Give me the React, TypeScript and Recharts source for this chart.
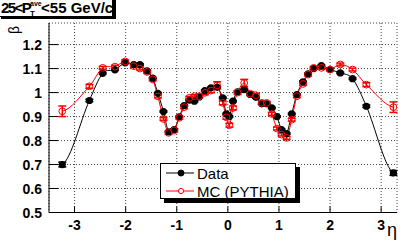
import { LineChart, Line, XAxis, YAxis, CartesianGrid, ErrorBar, Legend } from 'recharts'

// eta bins and response values
const eta = [
  -3.24, -2.71, -2.45, -2.21, -2.01, -1.84, -1.72, -1.58, -1.47, -1.37, -1.26, -1.16,
  -1.05, -0.95, -0.855, -0.755, -0.655, -0.56, -0.45, -0.33, -0.21, -0.1, -0.03, 0.03,
  0.1, 0.19, 0.32, 0.44, 0.55, 0.665, 0.76, 0.86, 0.96, 1.05, 1.15, 1.25,
  1.35, 1.47, 1.57, 1.68, 1.83, 2.0, 2.2, 2.44, 2.71, 3.24,
]
const dataBeta = [
  0.7, 0.967, 1.08, 1.095, 1.124, 1.117, 1.117, 1.09, 1.06, 0.997, 0.921, 0.836,
  0.846, 0.899, 0.946, 0.968, 0.964, 0.982, 1.008, 1.02, 1.022, 0.978, 0.911, 0.9,
  0.964, 1.003, 1.012, 0.992, 0.98, 0.953, 0.953, 0.936, 0.9, 0.846, 0.829, 0.911,
  0.992, 1.045, 1.078, 1.1, 1.112, 1.096, 1.082, 1.058, 0.943, 0.665,
]
const dataErr = [
  0.01, 0.005, 0.003, 0.003, 0.003, 0.003, 0.003, 0.003, 0.003, 0.003, 0.003, 0.003,
  0.003, 0.003, 0.003, 0.003, 0.003, 0.003, 0.003, 0.003, 0.003, 0.003, 0.003, 0.003,
  0.003, 0.003, 0.003, 0.003, 0.003, 0.003, 0.003, 0.003, 0.003, 0.003, 0.003, 0.003,
  0.003, 0.003, 0.003, 0.003, 0.003, 0.003, 0.003, 0.003, 0.005, 0.01,
]
const mcBeta = [
  0.922, 1.026, 1.103, 1.108, 1.13, 1.11, 1.1, 1.086, 1.055, 0.984, 0.89, 0.832,
  0.842, 0.895, 0.939, 0.978, 0.985, 0.985, 0.999, 1.008, 1.03, 0.957, 0.897, 0.864,
  0.936, 1.0, 1.04, 0.995, 0.989, 0.957, 0.957, 0.911, 0.85, 0.825, 0.811, 0.887,
  0.985, 1.036, 1.075, 1.103, 1.103, 1.096, 1.117, 1.096, 1.033, 0.939,
]
const mcErr = [
  0.022, 0.008, 0.006, 0.006, 0.006, 0.006, 0.006, 0.006, 0.006, 0.006, 0.006, 0.006,
  0.006, 0.006, 0.006, 0.006, 0.006, 0.006, 0.008, 0.008, 0.015, 0.008, 0.008, 0.008,
  0.008, 0.008, 0.015, 0.008, 0.006, 0.006, 0.006, 0.006, 0.006, 0.006, 0.006, 0.006,
  0.006, 0.006, 0.006, 0.006, 0.006, 0.006, 0.006, 0.006, 0.008, 0.022,
]

const xTicks = [-3, -2, -1, 0, 1, 2, 3]
const yTicks = [0.5, 0.6, 0.7, 0.8, 0.9, 1.0, 1.1, 1.2]

const xMinor: number[] = []
for (let i = -17; i <= 16; i++) if (i % 5 !== 0) xMinor.push(i / 5)
const yMinor: number[] = []
for (let i = 25; i <= 64; i++) if (i % 5 !== 0) yMinor.push(i / 50)

const rows = eta.map((e, i) => ({
  eta: e,
  data: dataBeta[i],
  dataErr: dataErr[i],
  mc: mcBeta[i],
  mcErr: mcErr[i],
}))

const W = 407
const H = 242
const PLOT = { left: 49, right: 397, top: 23, bottom: 212.5 }
const FONT = '"Liberation Sans", Arial, Helvetica, sans-serif'

const fmt = (v: number) => String(Number(v.toFixed(1)))

// smooth curve through the points, like ROOT's "C" draw option:
// hermite pieces, neighbour-difference slopes, flattened ends
function smoothCurve(context: any) {
  let pts: number[][] = []
  return {
    areaStart() {},
    areaEnd() {},
    lineStart() { pts = [] },
    point(x: number, y: number) { pts.push([+x, +y]) },
    lineEnd() {
      const n = pts.length
      if (!n) return
      context.moveTo(pts[0][0], pts[0][1])
      if (n === 1) return
      const m = pts.map((p, i) => {
        if (i === 0) return 0.25 * (pts[1][1] - p[1]) / (pts[1][0] - p[0])
        if (i === n - 1) return 0.25 * (p[1] - pts[i - 1][1]) / (p[0] - pts[i - 1][0])
        return (pts[i + 1][1] - pts[i - 1][1]) / (pts[i + 1][0] - pts[i - 1][0])
      })
      for (let i = 0; i < n - 1; i++) {
        const [x0, y0] = pts[i]
        const [x1, y1] = pts[i + 1]
        const h = (x1 - x0) / 3
        context.bezierCurveTo(x0 + h, y0 + m[i] * h, x1 - h, y1 - m[i + 1] * h, x1, y1)
      }
    },
  }
}

const YTick = (p: any) => (
  <g>
    <line x1={PLOT.left} x2={PLOT.left + 9} y1={p.y} y2={p.y} stroke="#000" />
    <text x={PLOT.left - 7} y={p.y} textAnchor="end" dominantBaseline="central"
      fontSize={14} fontWeight="bold" fontFamily={FONT} fill="#000">{fmt(p.payload.value)}</text>
  </g>
)
const YMinorTick = (p: any) => (
  <line x1={PLOT.left} x2={PLOT.left + 5} y1={p.y} y2={p.y} stroke="#000" />
)
const XTick = (p: any) => (
  <g>
    <line x1={p.x} x2={p.x} y1={PLOT.bottom} y2={PLOT.bottom - 6} stroke="#000" />
    <text x={p.x} y={PLOT.bottom + 12} textAnchor="middle" dominantBaseline="central"
      fontSize={14} fontWeight="bold" fontFamily={FONT} fill="#000">{p.payload.value}</text>
  </g>
)
const XMinorTick = (p: any) => (
  <line x1={p.x} x2={p.x} y1={PLOT.bottom} y2={PLOT.bottom - 3} stroke="#000" />
)

const blackDot = (p: any) => <circle key={`d${p.index}`} cx={p.cx} cy={p.cy} r={3.6} fill="#000" />
const redDot = (p: any) => (
  <circle key={`m${p.index}`} cx={p.cx} cy={p.cy} r={3.4} fill="none" stroke="#ff0000" strokeWidth={1} />
)

function LegendBox() {
  const row = (label: string, color: string, filled: boolean) => (
    <div style={{ display: 'flex', alignItems: 'center', height: 18 }}>
      <svg width={30} height={12} style={{ marginLeft: 4, marginRight: 2 }}>
        <line x1={1} x2={29} y1={6} y2={6} stroke={color} />
        <circle cx={16} cy={6} r={filled ? 3 : 2.6} fill={filled ? color : '#fff'} stroke={color} />
      </svg>
      <span style={{ fontFamily: FONT, fontSize: 15, color: '#000' }}>{label}</span>
    </div>
  )
  return (
    <div style={{
      width: 136, height: 36, border: '1px solid #000', background: '#fff',
      boxShadow: '4px 4px 0 #000', boxSizing: 'border-box',
    }}>
      {row('Data', '#000', true)}
      {row('MC (PYTHIA)', '#ff0000', false)}
    </div>
  )
}

export default function App() {
  return (
    <div style={{ position: 'absolute', left: 0, top: 0, width: W, height: H, background: '#fff', overflow: 'hidden' }}>
      <LineChart width={W} height={H} data={rows} margin={{ top: PLOT.top, right: W - PLOT.right, bottom: 0, left: 0 }}>
        <CartesianGrid xAxisId="x" yAxisId="y" stroke="#444" strokeDasharray="1 2" />
        <XAxis xAxisId="x" dataKey="eta" type="number" domain={[-3.5, 3.31]} allowDataOverflow
          ticks={xTicks} height={H - PLOT.bottom} tickLine={false} tickSize={0} tickMargin={0}
          axisLine={{ stroke: '#000' }} tick={XTick} interval={0} />
        <XAxis xAxisId="xm" orientation="top" type="number" domain={[-3.5, 3.31]} allowDataOverflow
          ticks={xMinor} height={0} tickLine={false} tickSize={0} tickMargin={0}
          axisLine={{ stroke: '#000' }} tick={XMinorTick} interval={0} />
        <YAxis yAxisId="y" type="number" domain={[0.5, 1.29]} allowDataOverflow ticks={yTicks}
          width={PLOT.left} tickLine={false} tickSize={0} tickMargin={0}
          axisLine={{ stroke: '#000' }} tick={YTick} interval={0} />
        <YAxis yAxisId="ym" orientation="right" type="number" domain={[0.5, 1.29]} allowDataOverflow
          ticks={yMinor} width={0} tickLine={false} tickSize={0} tickMargin={0}
          axisLine={{ stroke: '#000' }} tick={YMinorTick} interval={0} />
        <Line xAxisId="x" yAxisId="y" type={smoothCurve as any} dataKey="data" stroke="#000" strokeWidth={1}
          dot={blackDot} activeDot={false} isAnimationActive={false}>
          <ErrorBar dataKey="dataErr" direction="y" width={4} stroke="#000" isAnimationActive={false} />
        </Line>
        <Line xAxisId="x" yAxisId="y" type={smoothCurve as any} dataKey="mc" stroke="#ff0000" strokeWidth={1}
          dot={redDot} activeDot={false} isAnimationActive={false}>
          <ErrorBar dataKey="mcErr" direction="y" width={4} stroke="#ff0000" isAnimationActive={false} />
        </Line>
        <Legend layout="horizontal" verticalAlign="middle" align="center" content={() => <LegendBox />}
          wrapperStyle={{ position: 'absolute', left: 160, top: 163, width: 140, height: 40 }} />
      </LineChart>

      <div style={{
        position: 'absolute', left: -2, top: -2, width: 115, height: 19, boxSizing: 'border-box',
        border: '1px solid #000', background: '#fff', boxShadow: '3px 2px 0 #000',
        fontFamily: FONT, fontWeight: 'bold', fontSize: 15, lineHeight: '18px', whiteSpace: 'nowrap', paddingLeft: 2,
      }}>
        <span style={{ letterSpacing: -1.6 }}>25&lt;P</span>
        <span style={{ display: 'inline-block', position: 'relative', width: 11, height: 18, verticalAlign: 'top' }}>
          <span style={{ position: 'absolute', left: 0, top: -4, fontSize: 7 }}>ave</span>
          <span style={{ position: 'absolute', left: 0, top: 6, fontSize: 8 }}>T</span>
        </span>
        <span>&lt;55 GeV/c</span>
      </div>
      <svg width={W} height={H} style={{ position: 'absolute', left: 0, top: 0, pointerEvents: 'none' }}>
        <text x={19} y={30} transform="rotate(-90 19 30)" textAnchor="middle" fontFamily={FONT} fontSize={14} fill="#000">β</text>
        <text x={392} y={236} textAnchor="middle" fontFamily={FONT} fontSize={18} fill="#000">η</text>
      </svg>
    </div>
  )
}
